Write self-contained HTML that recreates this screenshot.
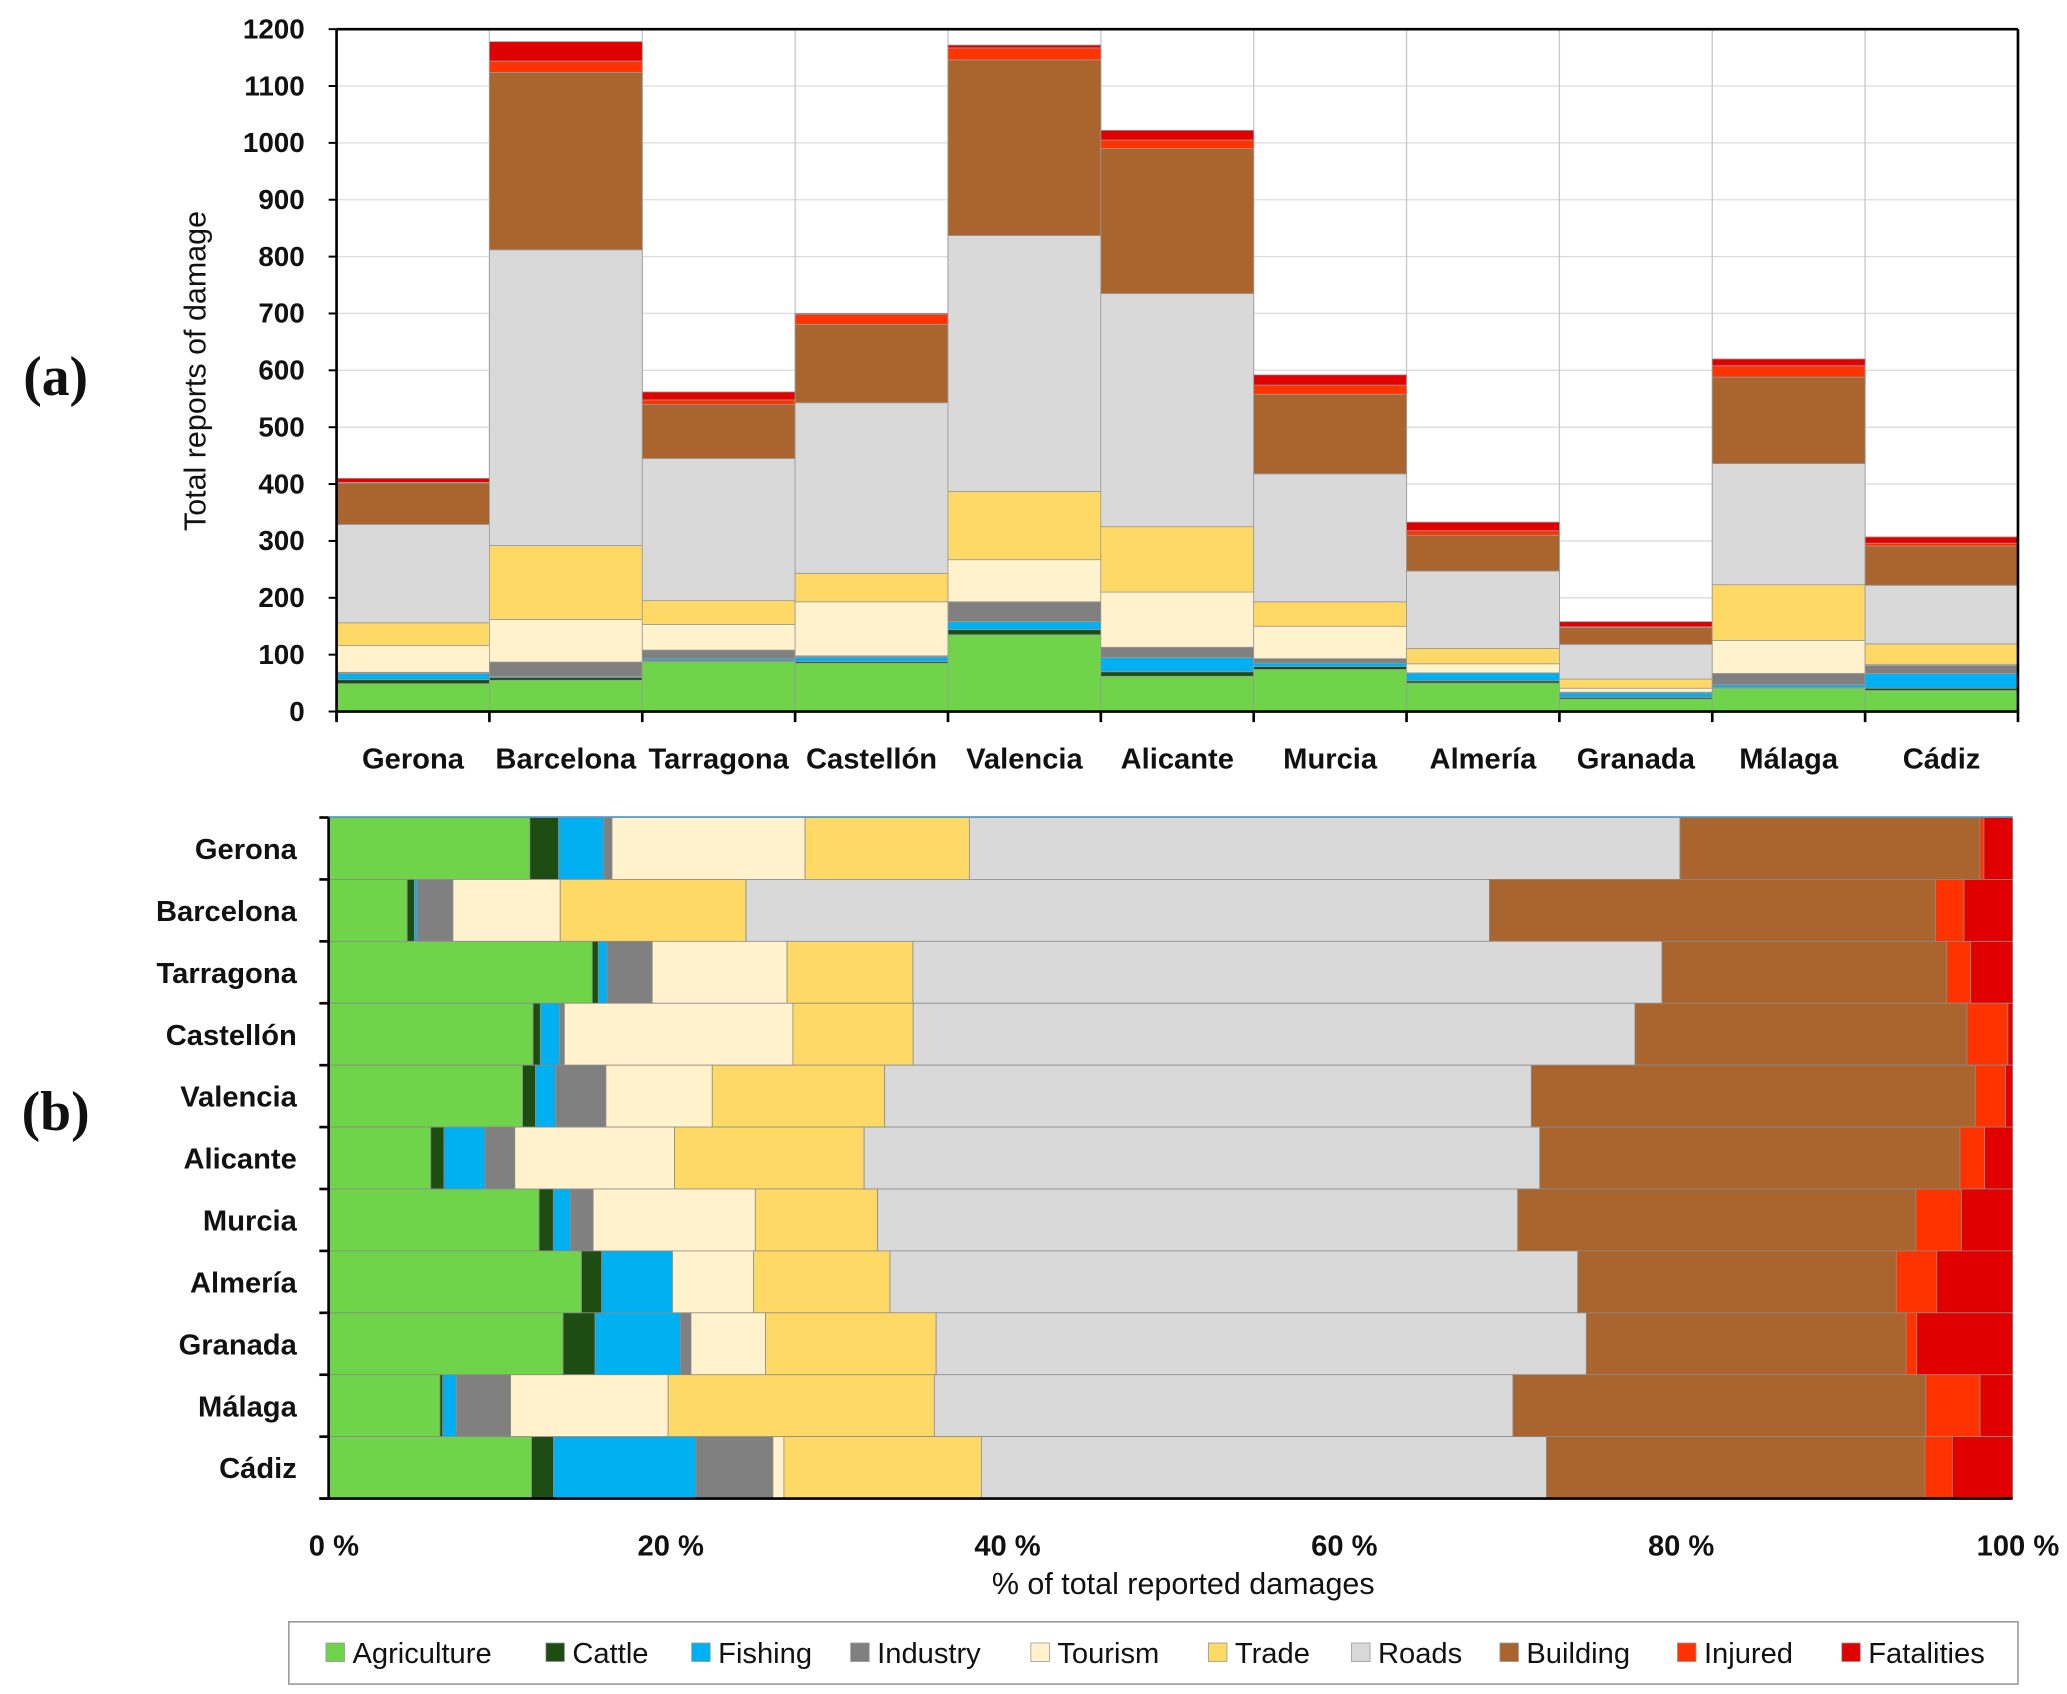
<!DOCTYPE html>
<html><head><meta charset="utf-8"><style>
html,body{margin:0;padding:0;background:#fff}
svg{display:block;font-family:"Liberation Sans",sans-serif}
</style></head><body>
<svg id="fig" width="2067" height="1694" viewBox="0 0 1560 1278.5" xmlns="http://www.w3.org/2000/svg">
<g id="pa"></g>
<g id="pb"></g>
<g id="lg"></g>
</svg>
<script>
const categories=["Gerona","Barcelona","Tarragona","Castellón","Valencia","Alicante","Murcia","Almería","Granada","Málaga","Cádiz"];
const seriesNames=["Agriculture","Cattle","Fishing","Industry","Tourism","Trade","Roads","Building","Injured","Fatalities"];
const agriculture=[49,55,88,85,135,62,74,50,22,41,37];
const cattle=[7,5,2,3,9,8,5,4,3,1,4];
const fishing=[11,2,3,8,14,25,6,14,8,5,26];
const industry=[2,25,15,2,35,18,8,0,1,20,14];
const tourism=[47,75,45,95,74,97,57,16,7,58,2];
const trade=[40,130,42,50,120,115,43,27,16,98,36];
const roads=[173,520,250,300,450,410,225,136,61,213,103];
const building=[73,312,95,138,309,255,140,63,30,152,69];
const injured=[1,20,8,17,21,15,16,8,1,20,5];
const fatalities=[7,34,14,2,5,17,18,15,9,12,11];
const yTicks=[0,100,200,300,400,500,600,700,800,900,1000,1100,1200];
const xTicksPct=[0,20,40,60,80,100];
const colors=["#70d44b","#1e4d14","#00b0f0","#808080","#fff2cc","#ffd966","#d9d9d9","#a9652d","#ff3300","#e00000"];
const series=[agriculture,cattle,fishing,industry,tourism,trade,roads,building,injured,fatalities];
const NS="http://www.w3.org/2000/svg";
function mk(tag,attrs,parent,text){const e=document.createElementNS(NS,tag);for(const k in attrs)e.setAttribute(k,attrs[k]);if(text!==undefined)e.textContent=text;parent.appendChild(e);return e;}
const pa=document.getElementById('pa'),pb=document.getElementById('pb'),lg=document.getElementById('lg');
const aL=254,aR=1523,aT=22,aB=537,aMax=1200;
const ay=v=>aB-(v/aMax)*(aB-aT);
const cw=(aR-aL)/categories.length;
const ax=i=>aL+i*cw;
yTicks.forEach(t=>{
 if(t>0){const g=mk('line',{x1:aL,x2:aR,y1:ay(t),y2:ay(t),stroke:'#dcdcdc','stroke-width':1},pa);
 }
 const l=mk('text',{x:230,y:ay(t)+7,'text-anchor':'end','font-size':21,'font-weight':'bold',fill:'#111'},pa,String(t));
 
 mk('line',{x1:aL-6,x2:aL,y1:ay(t),y2:ay(t),stroke:'#000','stroke-width':1.5},pa);
});
for(let i=1;i<categories.length;i++){const v=mk('line',{x1:ax(i),x2:ax(i),y1:aT,y2:aB,stroke:'#c8c8c8','stroke-width':1},pa);}
categories.forEach((c,i)=>{
 let cum=0;
 series.forEach((s,k)=>{
  const v=s[i];if(v<=0){return;}
  const r=mk('rect',{x:ax(i),y:ay(cum+v),width:cw,height:ay(cum)-ay(cum+v),fill:colors[k],stroke:'#999','stroke-width':0.6},pa);
  
  
  cum+=v;
 });
 const t=mk('text',{x:ax(i)+cw/2,y:580,'text-anchor':'middle','font-size':22,'font-weight':'bold',fill:'#111'},pa,c);
 
});
mk('line',{x1:aL,x2:aR,y1:aT,y2:aT,stroke:'#000','stroke-width':2},pa);
mk('line',{x1:aR,x2:aR,y1:aT,y2:aB,stroke:'#000','stroke-width':2},pa);
mk('line',{x1:aL,x2:aL,y1:aT,y2:aB+6,stroke:'#000','stroke-width':2},pa);
mk('line',{x1:aL,x2:aR,y1:aB,y2:aB,stroke:'#000','stroke-width':2},pa);
for(let i=0;i<=categories.length;i++)mk('line',{x1:ax(i),x2:ax(i),y1:aB,y2:aB+8,stroke:'#000','stroke-width':2},pa);
const yt=mk('text',{x:0,y:0,transform:'translate(155,280) rotate(-90)','text-anchor':'middle','font-size':23,fill:'#111'},pa,'Total reports of damage');

const la=mk('text',{x:42,y:298,'text-anchor':'middle','font-size':42,'font-weight':'bold','font-family':'Liberation Serif,serif',fill:'#111'},pa,'(a)');

const bL=248,bR=1519,bT=617,bB=1131;
const bx=p=>bL+(p/100)*(bR-bL);
const rh=(bB-bT)/categories.length;
mk('line',{x1:bL,x2:bR,y1:bT,y2:bT,stroke:'#1a9be0','stroke-width':2},pb);
categories.forEach((c,i)=>{
 let tot=0;series.forEach(s=>tot+=s[i]);
 let cum=0;const y0=bT+i*rh;
 series.forEach((s,k)=>{
  const p=s[i]/tot*100;if(p<=0)return;
  const r=mk('rect',{x:bx(cum),y:y0,width:bx(cum+p)-bx(cum),height:rh,fill:colors[k],stroke:'#8c8c8c','stroke-width':0.6},pb);
  
  
  cum+=p;
 });
 const t=mk('text',{x:224,y:y0+rh/2+8,'text-anchor':'end','font-size':22,'font-weight':'bold',fill:'#111'},pb,c);
 
 mk('line',{x1:bL-7,x2:bL,y1:y0,y2:y0,stroke:'#000','stroke-width':2},pb);
});
mk('line',{x1:bL-7,x2:bL,y1:bB,y2:bB,stroke:'#000','stroke-width':2},pb);
mk('line',{x1:bL,x2:bL,y1:bT,y2:bB,stroke:'#000','stroke-width':2},pb);
mk('line',{x1:bL-7,x2:bR,y1:bB,y2:bB,stroke:'#000','stroke-width':2},pb);
xTicksPct.forEach(p=>{
 const t=mk('text',{x:bx(p)+4,y:1174,'text-anchor':'middle','font-size':22,'font-weight':'bold',fill:'#111'},pb,p+' %');
 
});
const xt=mk('text',{x:893,y:1203,'text-anchor':'middle','font-size':23,fill:'#111'},pb,'% of total reported damages');

const lb=mk('text',{x:42,y:853,'text-anchor':'middle','font-size':42,'font-weight':'bold','font-family':'Liberation Serif,serif',fill:'#111'},pb,'(b)');

mk('rect',{x:218,y:1224,width:1305,height:47,fill:'#fff',stroke:'#999','stroke-width':1.2},lg);
const lx=[246,412,522,642,778,912,1020,1132,1266,1390];
seriesNames.forEach((n,k)=>{
 const g=mk('g',{},lg);
 
 
 mk('rect',{x:lx[k],y:1240,width:14,height:14,fill:colors[k],stroke:'#999','stroke-width':0.6},g);
 mk('text',{x:lx[k]+20,y:1255,'font-size':22,fill:'#111'},g,n);
});
</script>
</body></html>
